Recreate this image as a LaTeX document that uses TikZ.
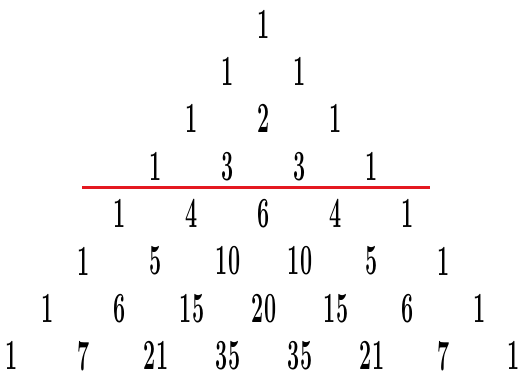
\documentclass[tikz,border=0pt]{standalone}
\usepackage{fontspec}
\usepackage{xcolor}
\usetikzlibrary{positioning}
\definecolor{cutred}{RGB}{228,24,32}

\begin{document}
\begin{tikzpicture}[x=1pt, y=-1pt]
    \tikzstyle{num}=[inner sep=0pt, anchor=center, font=\fontsize{43}{46}\selectfont\bfseries]
    \newcommand{\nb}[1]{\scalebox{0.5}[1]{#1}}
    \useasboundingbox (0,0) rectangle (524,374);
    % row 0
    \node[num] (r0c0) at (264,24) {\nb{1}};
    % row 1
    \node[num] (r1c0) at (228,71.4) {\nb{1}};
    \node[num] (r1c1) at (300,71.4) {\nb{1}};
    % row 2
    \node[num] (r2c0) at (192,118.8) {\nb{1}};
    \node[num] (r2c1) at (264,118.8) {\nb{2}};
    \node[num] (r2c2) at (336,118.8) {\nb{1}};
    % row 3
    \node[num] (r3c0) at (156,166.2) {\nb{1}};
    \node[num] (r3c1) at (228,166.2) {\nb{3}};
    \node[num] (r3c2) at (300,166.2) {\nb{3}};
    \node[num] (r3c3) at (372,166.2) {\nb{1}};
    % row 4
    \node[num] (r4c0) at (120,213.6) {\nb{1}};
    \node[num] (r4c1) at (192,213.6) {\nb{4}};
    \node[num] (r4c2) at (264,213.6) {\nb{6}};
    \node[num] (r4c3) at (336,213.6) {\nb{4}};
    \node[num] (r4c4) at (408,213.6) {\nb{1}};
    % row 5
    \node[num] (r5c0) at (84,261) {\nb{1}};
    \node[num] (r5c1) at (156,261) {\nb{5}};
    \node[num] (r5c2) at (228,261) {\nb{10}};
    \node[num] (r5c3) at (300,261) {\nb{10}};
    \node[num] (r5c4) at (372,261) {\nb{5}};
    \node[num] (r5c5) at (444,261) {\nb{1}};
    % row 6
    \node[num] (r6c0) at (48,308.4) {\nb{1}};
    \node[num] (r6c1) at (120,308.4) {\nb{6}};
    \node[num] (r6c2) at (192,308.4) {\nb{15}};
    \node[num] (r6c3) at (264,308.4) {\nb{20}};
    \node[num] (r6c4) at (336,308.4) {\nb{15}};
    \node[num] (r6c5) at (408,308.4) {\nb{6}};
    \node[num] (r6c6) at (480,308.4) {\nb{1}};
    % row 7
    \node[num] (r7c0) at (12,355.8) {\nb{1}};
    \node[num] (r7c1) at (84,355.8) {\nb{7}};
    \node[num] (r7c2) at (156,355.8) {\nb{21}};
    \node[num] (r7c3) at (228,355.8) {\nb{35}};
    \node[num] (r7c4) at (300,355.8) {\nb{35}};
    \node[num] (r7c5) at (372,355.8) {\nb{21}};
    \node[num] (r7c6) at (444,355.8) {\nb{7}};
    \node[num] (r7c7) at (514,355.8) {\nb{1}};
    % cut line under row 3
    \coordinate (cutL) at (82,187);
    \coordinate (cutR) at (430,187);
    \draw[cutred, line width=3pt] (cutL) -- (cutR);
\end{tikzpicture}
\end{document}
